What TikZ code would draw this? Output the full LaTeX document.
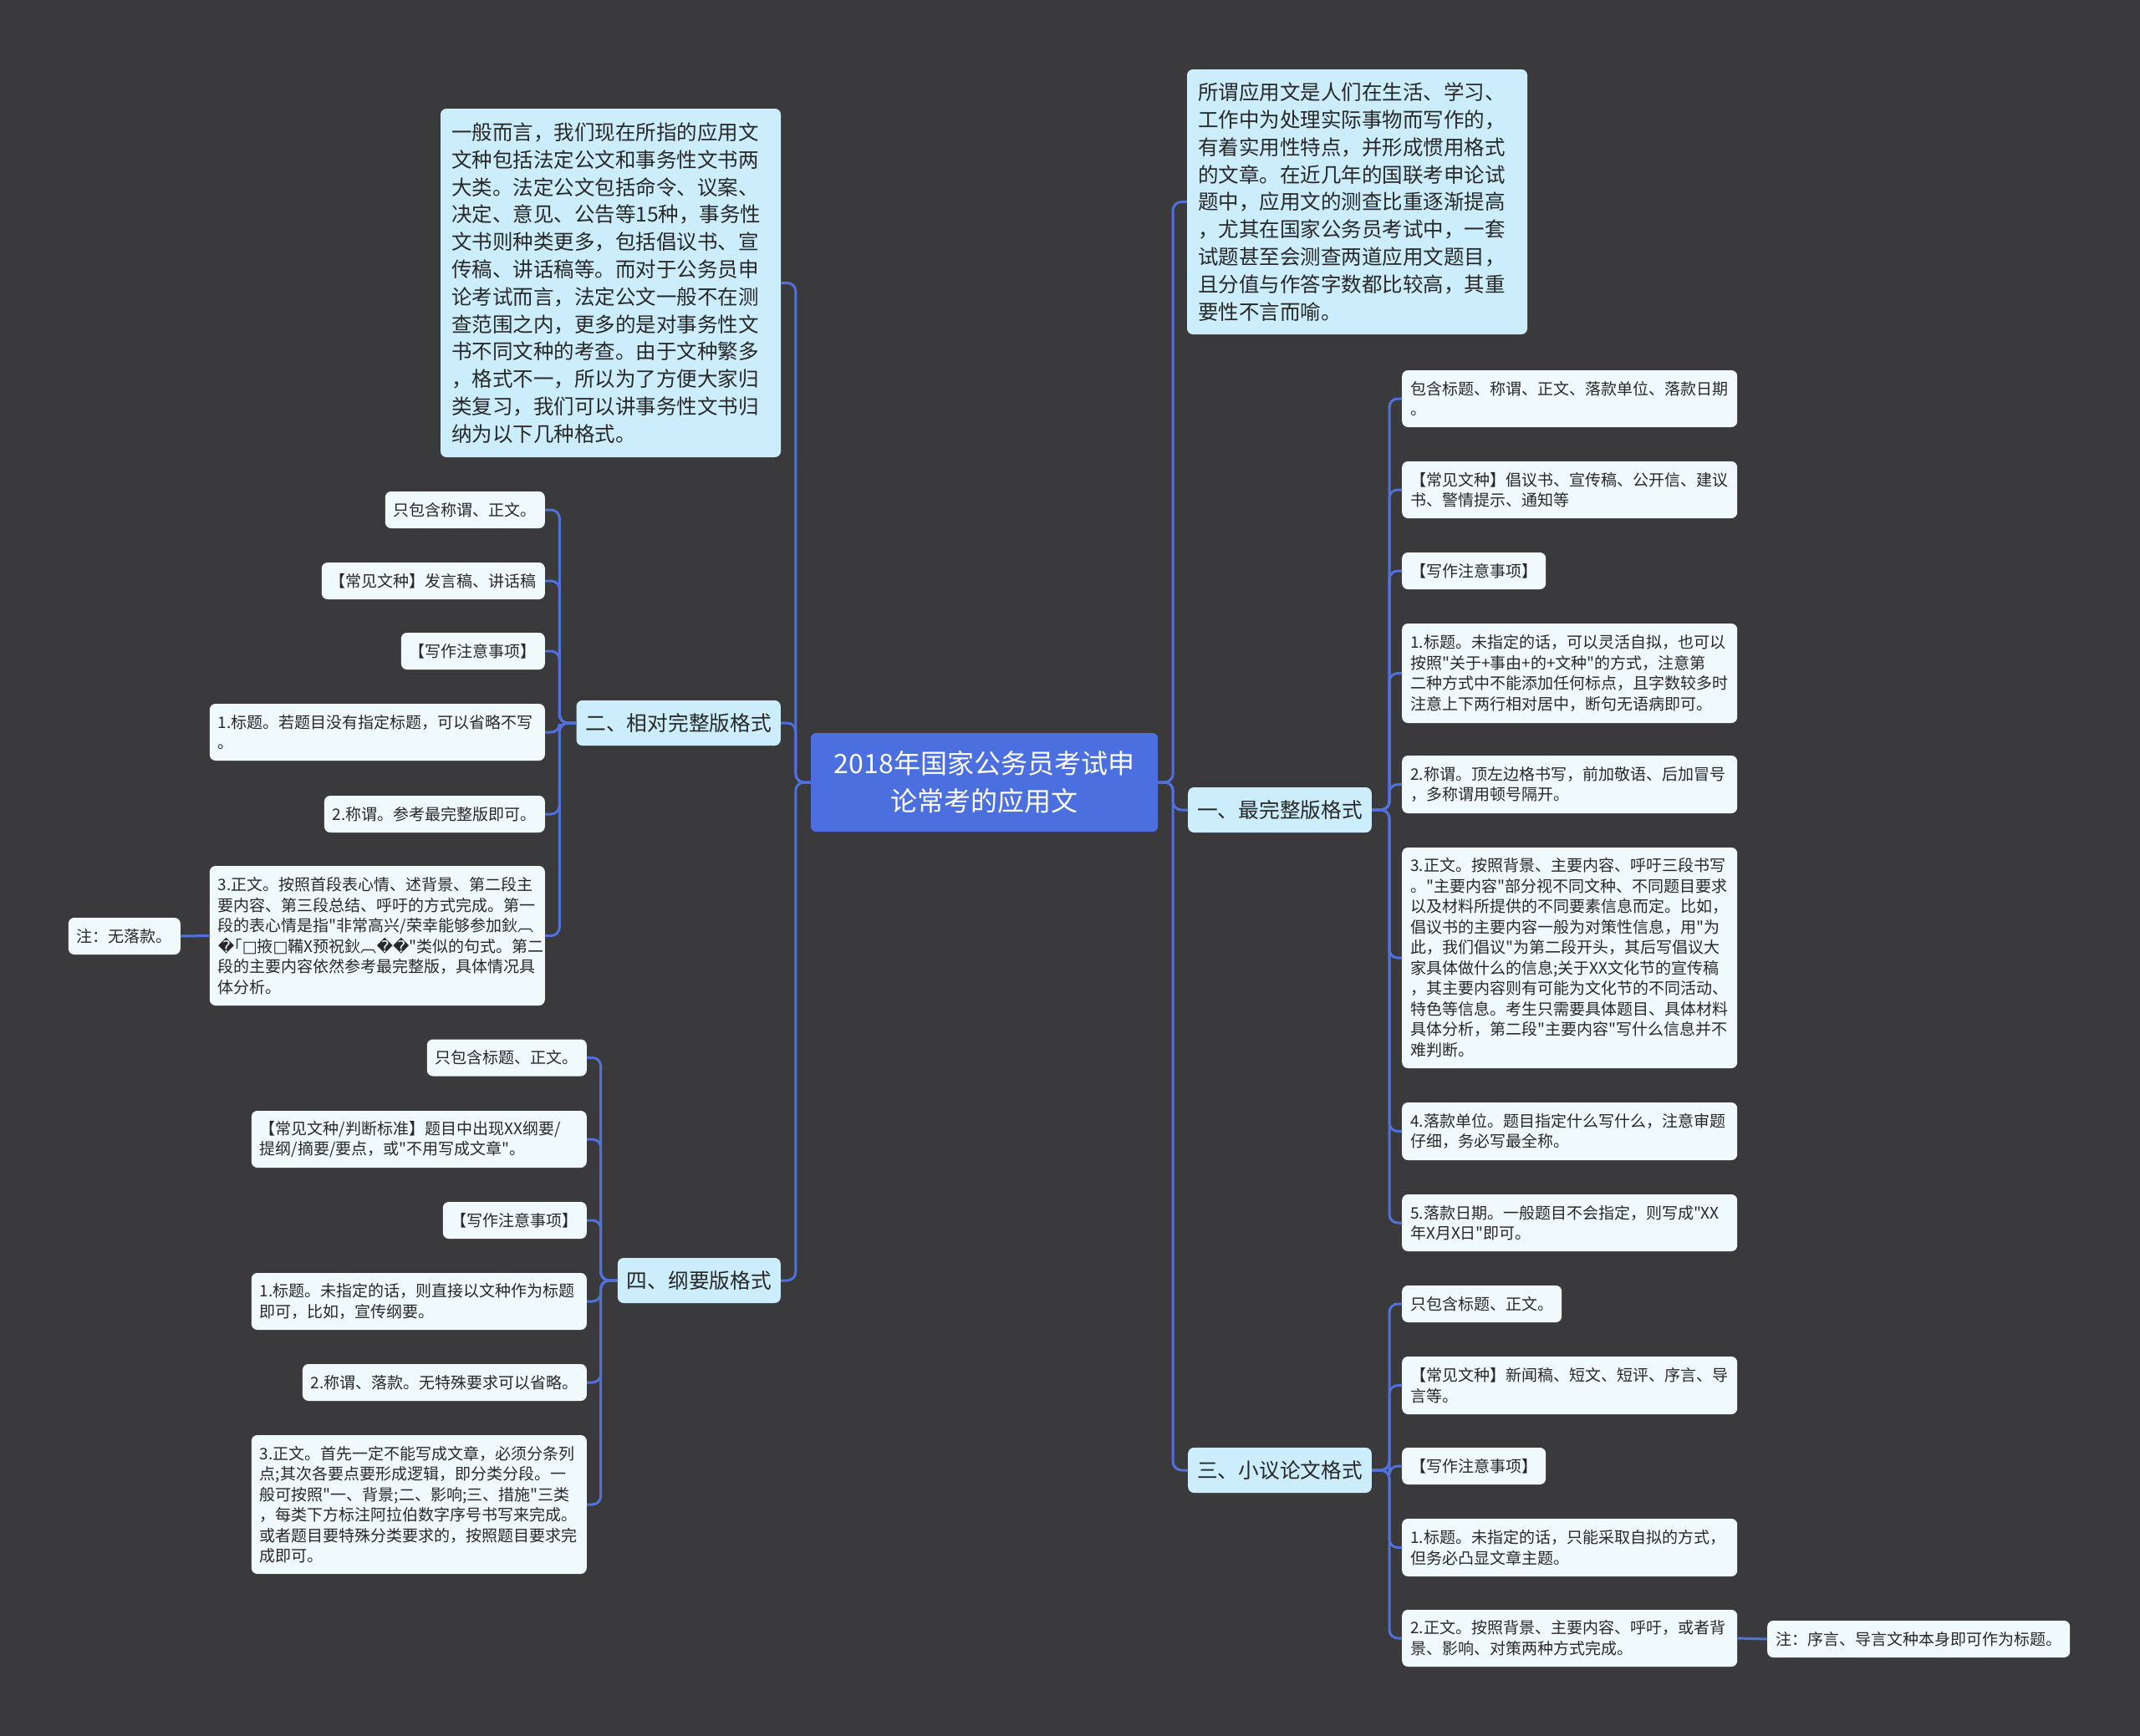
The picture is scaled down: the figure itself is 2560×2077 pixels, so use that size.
\documentclass[tikz,border=0pt]{standalone}
\usepackage{fontspec}
\newfontfamily\cjk{Noto Sans CJK SC}
\newfontfamily\dvfont{DejaVu Sans}
\definecolor{bgc}{RGB}{58,58,60}
\definecolor{rootc}{RGB}{76,111,224}
\definecolor{linec}{RGB}{80,112,218}
\definecolor{brc}{RGB}{204,237,252}
\definecolor{leafc}{RGB}{240,250,253}
\definecolor{textc}{RGB}{40,40,40}
\newcommand{\rep}{{\dvfont\char"FFFD}}
\newcommand{\sqbox}{{\dvfont\char"25A1}}
\begin{document}
\begin{tikzpicture}[x=1pt,y=-1pt,
  conn/.style={draw=linec, line width=3pt, rounded corners=10pt},
  rootbox/.style={fill=rootc, rounded corners=6pt, text=white, align=center, text width=393pt, inner xsep=11pt, inner ysep=0pt, minimum height=118pt, font=\cjk\fontsize{32}{45}\selectfont},
  intro/.style={fill=brc, rounded corners=7pt, inner xsep=13pt, inner ysep=0pt, text width=381pt, align=left, text=textc, font=\cjk\fontsize{24.5}{32.8}\selectfont},
  branch/.style={fill=brc, rounded corners=7pt, inner xsep=11pt, inner ysep=0pt, minimum height=54pt, text=textc, font=\cjk\fontsize{24.7}{30}\selectfont},
  leaf/.style={fill=leafc, rounded corners=7pt, inner xsep=10pt, inner ysep=0pt, minimum height=44pt, text=textc, align=left, font=\cjk\fontsize{19}{24.5}\selectfont},
  multi/.style={text width=381pt}
]
\fill[bgc] (0,0) rectangle (2560,2077);
\useasboundingbox (0,0) rectangle (2560,2077);

% root
\node[rootbox] (root) at (1177.5,936) {2018年国家公务员考试申\\论常考的应用文};

% intro boxes
\node[intro, minimum height=317pt] (introR) at (1623.5,241.5) {所谓应用文是人们在生活、学习、\\工作中为处理实际事物而写作的，\\有着实用性特点，并形成惯用格式\\的文章。在近几年的国联考申论试\\题中，应用文的测查比重逐渐提高\\，尤其在国家公务员考试中，一套\\试题甚至会测查两道应用文题目，\\且分值与作答字数都比较高，其重\\要性不言而喻。};
\node[intro, minimum height=417pt] (introL) at (730.5,338.5) {一般而言，我们现在所指的应用文\\文种包括法定公文和事务性文书两\\大类。法定公文包括命令、议案、\\决定、意见、公告等15种，事务性\\文书则种类更多，包括倡议书、宣\\传稿、讲话稿等。而对于公务员申\\论考试而言，法定公文一般不在测\\查范围之内，更多的是对事务性文\\书不同文种的考查。由于文种繁多\\，格式不一，所以为了方便大家归\\类复习，我们可以讲事务性文书归\\纳为以下几种格式。};

% branches
\node[branch, anchor=west] (b1) at (1421,969) {一、最完整版格式};
\node[branch, anchor=west] (b3) at (1421,1759) {三、小议论文格式};
\node[branch, anchor=east] (b2) at (934,865) {二、相对完整版格式};
\node[branch, anchor=east] (b4) at (934,1532) {四、纲要版格式};

% branch 1 leaves
\node[leaf, multi, minimum height=68pt, anchor=west] (a1) at (1677,477) {包含标题、称谓、正文、落款单位、落款日期\\。};
\node[leaf, multi, minimum height=68pt, anchor=west] (a2) at (1677,586) {【常见文种】倡议书、宣传稿、公开信、建议\\书、警情提示、通知等};
\node[leaf, anchor=west] (a3) at (1677,683) {【写作注意事项】};
\node[leaf, multi, minimum height=119pt, anchor=west] (a4) at (1677,805.5) {1.标题。未指定的话，可以灵活自拟，也可以\\按照"关于+事由+的+文种"的方式，注意第\\二种方式中不能添加任何标点，且字数较多时\\注意上下两行相对居中，断句无语病即可。};
\node[leaf, multi, minimum height=69pt, anchor=west] (a5) at (1677,938.5) {2.称谓。顶左边格书写，前加敬语、后加冒号\\，多称谓用顿号隔开。};
\node[leaf, multi, minimum height=264pt, anchor=west] (a6) at (1677,1146) {3.正文。按照背景、主要内容、呼吁三段书写\\。"主要内容"部分视不同文种、不同题目要求\\以及材料所提供的不同要素信息而定。比如，\\倡议书的主要内容一般为对策性信息，用"为\\此，我们倡议"为第二段开头，其后写倡议大\\家具体做什么的信息;关于XX文化节的宣传稿\\，其主要内容则有可能为文化节的不同活动、\\特色等信息。考生只需要具体题目、具体材料\\具体分析，第二段"主要内容"写什么信息并不\\难判断。};
\node[leaf, multi, minimum height=69pt, anchor=west] (a7) at (1677,1353.5) {4.落款单位。题目指定什么写什么，注意审题\\仔细，务必写最全称。};
\node[leaf, multi, minimum height=68pt, anchor=west] (a8) at (1677,1463) {5.落款日期。一般题目不会指定，则写成"XX\\年X月X日"即可。};

% branch 3 leaves
\node[leaf, anchor=west] (c1) at (1677,1560) {只包含标题、正文。};
\node[leaf, multi, minimum height=69pt, anchor=west] (c2) at (1677,1657.5) {【常见文种】新闻稿、短文、短评、序言、导\\言等。};
\node[leaf, anchor=west] (c3) at (1677,1754) {【写作注意事项】};
\node[leaf, multi, minimum height=69pt, anchor=west] (c4) at (1677,1851.5) {1.标题。未指定的话，只能采取自拟的方式，\\但务必凸显文章主题。};
\node[leaf, multi, minimum height=68pt, anchor=west] (c5) at (1677,1960) {2.正文。按照背景、主要内容、呼吁，或者背\\景、影响、对策两种方式完成。};
\node[leaf, anchor=west] (c6) at (2114,1961) {注：序言、导言文种本身即可作为标题。};

% branch 2 leaves
\node[leaf, anchor=east] (d1) at (652,610) {只包含称谓、正文。};
\node[leaf, anchor=east] (d2) at (652,695) {【常见文种】发言稿、讲话稿};
\node[leaf, anchor=east] (d3) at (652,779) {【写作注意事项】};
\node[leaf, multi, minimum height=68pt, anchor=east] (d4) at (652,876) {1.标题。若题目没有指定标题，可以省略不写\\。};
\node[leaf, anchor=east] (d5) at (652,974) {2.称谓。参考最完整版即可。};
\node[leaf, multi, minimum height=167pt, anchor=east] (d6) at (652,1119.5) {3.正文。按照首段表心情、述背景、第二段主\\要内容、第三段总结、呼吁的方式完成。第一\\段的表心情是指"非常高兴/荣幸能够参加鈥︹\\\rep｢\sqbox 掖\sqbox 鞴X预祝鈥︹\rep\rep"类似的句式。第二\\段的主要内容依然参考最完整版，具体情况具\\体分析。};
\node[leaf, anchor=east] (d7) at (216,1120) {注：无落款。};

% branch 4 leaves
\node[leaf, anchor=east] (e1) at (702,1265.5) {只包含标题、正文。};
\node[leaf, multi, minimum height=68pt, anchor=east] (e2) at (702,1363) {【常见文种/判断标准】题目中出现XX纲要/\\提纲/摘要/要点，或"不用写成文章"。};
\node[leaf, anchor=east] (e3) at (702,1460) {【写作注意事项】};
\node[leaf, multi, minimum height=68pt, anchor=east] (e4) at (702,1557) {1.标题。未指定的话，则直接以文种作为标题\\即可，比如，宣传纲要。};
\node[leaf, anchor=east] (e5) at (702,1654) {2.称谓、落款。无特殊要求可以省略。};
\node[leaf, multi, minimum height=166pt, anchor=east] (e6) at (702,1800) {3.正文。首先一定不能写成文章，必须分条列\\点;其次各要点要形成逻辑，即分类分段。一\\般可按照"一、背景;二、影响;三、措施"三类\\，每类下方标注阿拉伯数字序号书写来完成。\\或者题目要特殊分类要求的，按照题目要求完\\成即可。};

% connectors
\foreach \c in {introR,b1,b3} \draw[conn] (root.east) -- ++(18,0) |- (\c.west);
\foreach \c in {introL,b2,b4} \draw[conn] (root.west) -- ++(-18,0) |- (\c.east);
\foreach \c in {a1,a2,a3,a4,a5,a6,a7,a8} \draw[conn] (b1.east) -- ++(21,0) |- (\c.west);
\foreach \c in {c1,c2,c3,c4,c5} \draw[conn] (b3.east) -- ++(21,0) |- (\c.west);
\foreach \c in {d1,d2,d3,d4,d5,d6} \draw[conn] (b2.west) -- ++(-20,0) |- (\c.east);
\foreach \c in {e1,e2,e3,e4,e5,e6} \draw[conn] (b4.west) -- ++(-20,0) |- (\c.east);
\draw[conn] (c5.east) -- (c6.west);
\draw[conn] (d6.west) -- (d7.east);
\end{tikzpicture}
\end{document}
